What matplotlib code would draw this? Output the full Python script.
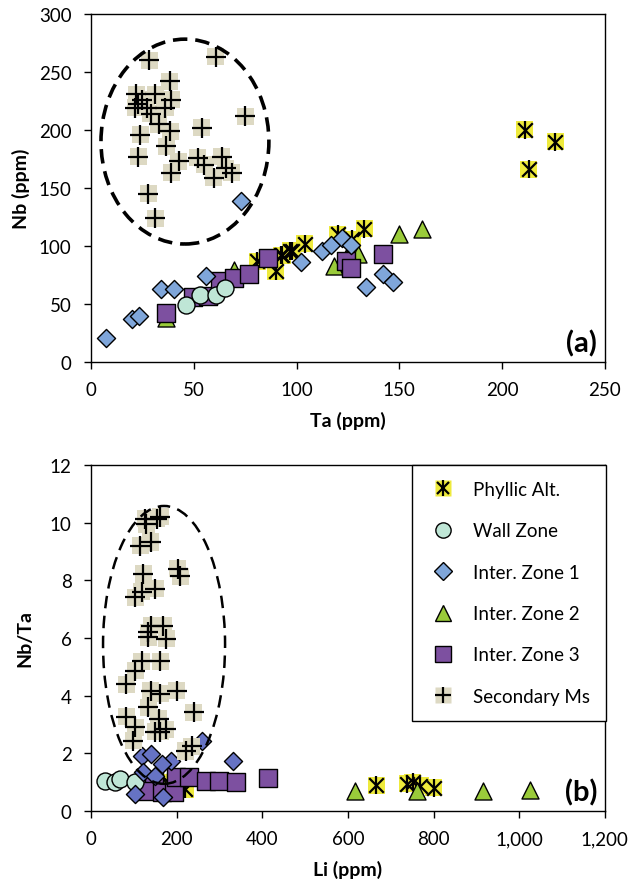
import matplotlib
matplotlib.use("Agg")
import matplotlib.pyplot as plt
from matplotlib.patches import Ellipse
from matplotlib.lines import Line2D
from matplotlib.ticker import FuncFormatter

plt.rcParams['font.family'] = ['Lato', 'DejaVu Sans']

# ---------------- Panel (a): Ta vs Nb ----------------
phyllic_ta = [211, 226, 213, 133, 120, 127, 104, 97, 93, 81, 90, 92.5, 98]
phyllic_nb = [200, 190, 166, 115, 110, 106, 102, 96, 92, 87, 78, 92, 96]

wall_ta = [46, 53, 61, 65]
wall_nb = [49, 58, 58, 64]

iz1_ta = [7.3, 20, 23.5, 34, 40.6, 56, 73, 102, 112.5, 117, 122, 126.7, 133.6, 142, 147]
iz1_nb = [20.5, 37, 40, 63, 63, 74, 139, 86, 96, 101, 107, 101, 65, 76, 69]

iz2_ta = [161, 150, 118, 129.7, 69.5, 36.7, 124]
iz2_nb = [115, 110, 83, 93, 79, 38, 90]

iz3_ta = [36.7, 49.4, 57, 63, 69.5, 77, 86, 142, 124, 126.7]
iz3_nb = [42, 56, 57, 70, 72, 76, 90, 93, 87, 81]

sec_ta = [28.4, 60.7, 38.2, 22, 31.3, 39, 23, 21.5, 27, 36, 75, 33, 24, 38.6, 54,
          36.7, 23, 42.6, 52, 55, 63.6, 65.6, 68.5, 59.7, 39, 27.9, 31.3, 25, 29]
sec_nb = [260, 263, 242, 231, 231, 226, 222, 219, 219, 219, 212, 205, 196, 199, 202,
          186, 177, 173, 176, 170, 177, 167, 163, 159, 163, 145, 124, 226, 214]

# ---------------- Panel (b): Li vs Nb/Ta ----------------
phyllic_li = [666, 739, 751, 769, 800, 180, 220]
phyllic_r = [0.9, 0.94, 1.0, 0.87, 0.8, 1.0, 0.75]

wall_li = [33, 56, 68, 103]
wall_r = [1.04, 1.0, 1.1, 1.0]

iz1_li = [259, 332, 118, 139, 186, 165, 122, 103, 169, 150]
iz1_r = [2.43, 1.73, 1.9, 1.98, 1.73, 1.63, 1.35, 0.59, 0.49, 1.2]

iz2_li = [616, 762, 915, 1026, 170]
iz2_r = [0.7, 0.7, 0.7, 0.73, 0.8]

iz3_li = [146, 127, 165, 193, 198, 228, 268, 299, 339, 414]
iz3_r = [1.04, 0.7, 0.66, 0.66, 1.18, 1.18, 1.04, 1.04, 1.0, 1.14]

sec_li = [127, 153, 162, 129, 115, 139, 122, 202, 209, 103, 118, 150, 141, 169, 134,
          134, 176, 118, 162, 103, 82, 139, 162, 200, 134, 240, 82, 158, 103, 162,
          150, 99, 221, 235, 174]
sec_r = [10.13, 10.13, 10.2, 9.95, 9.2, 9.33, 8.22, 8.4, 8.15, 7.42, 7.6, 7.7, 6.42, 6.42, 6.2,
         6.03, 5.97, 5.2, 5.2, 4.86, 4.4, 4.17, 4.06, 4.17, 3.6, 3.43, 3.26, 3.19, 2.9, 2.74,
         2.74, 2.43, 2.08, 2.25, 2.84]

labels = ["Phyllic Alt.", "Wall Zone", "Inter. Zone 1", "Inter. Zone 2", "Inter. Zone 3", "Secondary Ms"]

YEL = "#eeea3c"
MINT = "#bfe6d6"
BLUE_A = "#7fa6da"
BLUE_B = "#6673c4"
GREEN = "#9acb3a"
PURPLE = "#7d50a0"
TAN = "#ddd9c3"

fig = plt.figure(figsize=(6.32, 8.87), dpi=100)
ax1 = fig.add_axes([0.144, 0.5908, 0.813, 0.3923])
ax2 = fig.add_axes([0.144, 0.0846, 0.813, 0.3900])


def draw(ax, px, py, wx, wy, d1x, d1y, d2x, d2y, d3x, d3y, sx, sy, blue):
    ax.scatter(px, py, marker='s', s=150, c=YEL, edgecolors='none', zorder=2)
    ax.scatter(px, py, marker='x', s=110, c='black', linewidths=1.6, zorder=2.1)
    ax.scatter(px, py, marker='|', s=150, c='black', linewidths=1.6, zorder=2.1)
    ax.scatter(d2x, d2y, marker='^', s=150, c=GREEN, edgecolors='black', linewidths=1.0, zorder=3)
    ax.scatter(d3x, d3y, marker='s', s=150, c=PURPLE, edgecolors='black', linewidths=1.0, zorder=4)
    ax.scatter(wx, wy, marker='o', s=150, c=MINT, edgecolors='black', linewidths=1.0, zorder=5)
    ax.scatter(d1x, d1y, marker='D', s=85, c=blue, edgecolors='black', linewidths=1.0, zorder=6)
    ax.scatter(sx, sy, marker='s', s=150, c=TAN, edgecolors='none', zorder=7)
    ax.scatter(sx, sy, marker='+', s=200, c='black', linewidths=1.6, zorder=7.1)


draw(ax1, phyllic_ta, phyllic_nb, wall_ta, wall_nb, iz1_ta, iz1_nb, iz2_ta, iz2_nb,
     iz3_ta, iz3_nb, sec_ta, sec_nb, BLUE_A)
draw(ax2, phyllic_li, phyllic_r, wall_li, wall_r, iz1_li, iz1_r, iz2_li, iz2_r,
     iz3_li, iz3_r, sec_li, sec_r, BLUE_B)

ax1.add_patch(Ellipse((45.7, 190), 81.7, 176.6, fill=False, ec='black', lw=2.6,
                      ls=(0, (4, 2.2)), zorder=8))
ax2.add_patch(Ellipse((170.6, 5.76), 285, 9.64, fill=False, ec='black', lw=1.8,
                      ls=(0, (5, 3)), zorder=8))

ax1.set_xlim(0, 250)
ax1.set_ylim(0, 300)
ax1.set_xticks([0, 50, 100, 150, 200, 250])
ax1.set_yticks([0, 50, 100, 150, 200, 250, 300])
ax1.set_xlabel("Ta (ppm)", fontsize=14, fontweight='bold', labelpad=9)
ax1.set_ylabel("Nb (ppm)", fontsize=14, fontweight='bold', labelpad=6)

ax2.set_xlim(0, 1200)
ax2.set_ylim(0, 12)
ax2.set_xticks([0, 200, 400, 600, 800, 1000, 1200])
ax2.set_yticks([0, 2, 4, 6, 8, 10, 12])
ax2.xaxis.set_major_formatter(FuncFormatter(lambda v, p: f"{int(v):,}"))
ax2.set_xlabel("Li (ppm)", fontsize=14, fontweight='bold', labelpad=9)
ax2.set_ylabel("Nb/Ta", fontsize=14, fontweight='bold', labelpad=12)

for ax in (ax1, ax2):
    ax.tick_params(direction='out', length=5, width=1, labelsize=13.5, colors='black')
    ax.tick_params(axis='x', pad=9)
    ax.tick_params(axis='y', pad=9)
    for sp in ax.spines.values():
        sp.set_linewidth(1.0)

ax1.text(0.985, 0.015, "(a)", transform=ax1.transAxes, ha='right', va='bottom',
         fontsize=21, fontweight='bold')
ax2.text(0.985, 0.015, "(b)", transform=ax2.transAxes, ha='right', va='bottom',
         fontsize=21, fontweight='bold')

h_phy = (Line2D([], [], marker='s', ls='none', ms=11, mfc=YEL, mec='none'),
         Line2D([], [], marker='x', ls='none', ms=9, mec='black', mew=1.6),
         Line2D([], [], marker='|', ls='none', ms=11, mec='black', mew=1.6))
h_wall = Line2D([], [], marker='o', ls='none', ms=11, mfc=MINT, mec='black', mew=1.0)
h_iz1 = Line2D([], [], marker='D', ls='none', ms=9, mfc=BLUE_A, mec='black', mew=1.0)
h_iz2 = Line2D([], [], marker='^', ls='none', ms=12, mfc=GREEN, mec='black', mew=1.0)
h_iz3 = Line2D([], [], marker='s', ls='none', ms=11, mfc=PURPLE, mec='black', mew=1.0)
h_sec = (Line2D([], [], marker='s', ls='none', ms=11, mfc=TAN, mec='none'),
         Line2D([], [], marker='+', ls='none', ms=12, mec='black', mew=1.6))

leg = ax2.legend([h_phy, h_wall, h_iz1, h_iz2, h_iz3, h_sec], labels,
                 loc='upper right', bbox_to_anchor=(1.003, 1.0), fontsize=13.5,
                 frameon=True, fancybox=False, edgecolor='black', framealpha=1,
                 labelspacing=1.3, handletextpad=0.8, borderpad=0.85,
                 borderaxespad=0, handlelength=1.6)
leg.get_frame().set_linewidth(1.0)
leg.set_zorder(20)

fig.savefig("out.png", dpi=100)
